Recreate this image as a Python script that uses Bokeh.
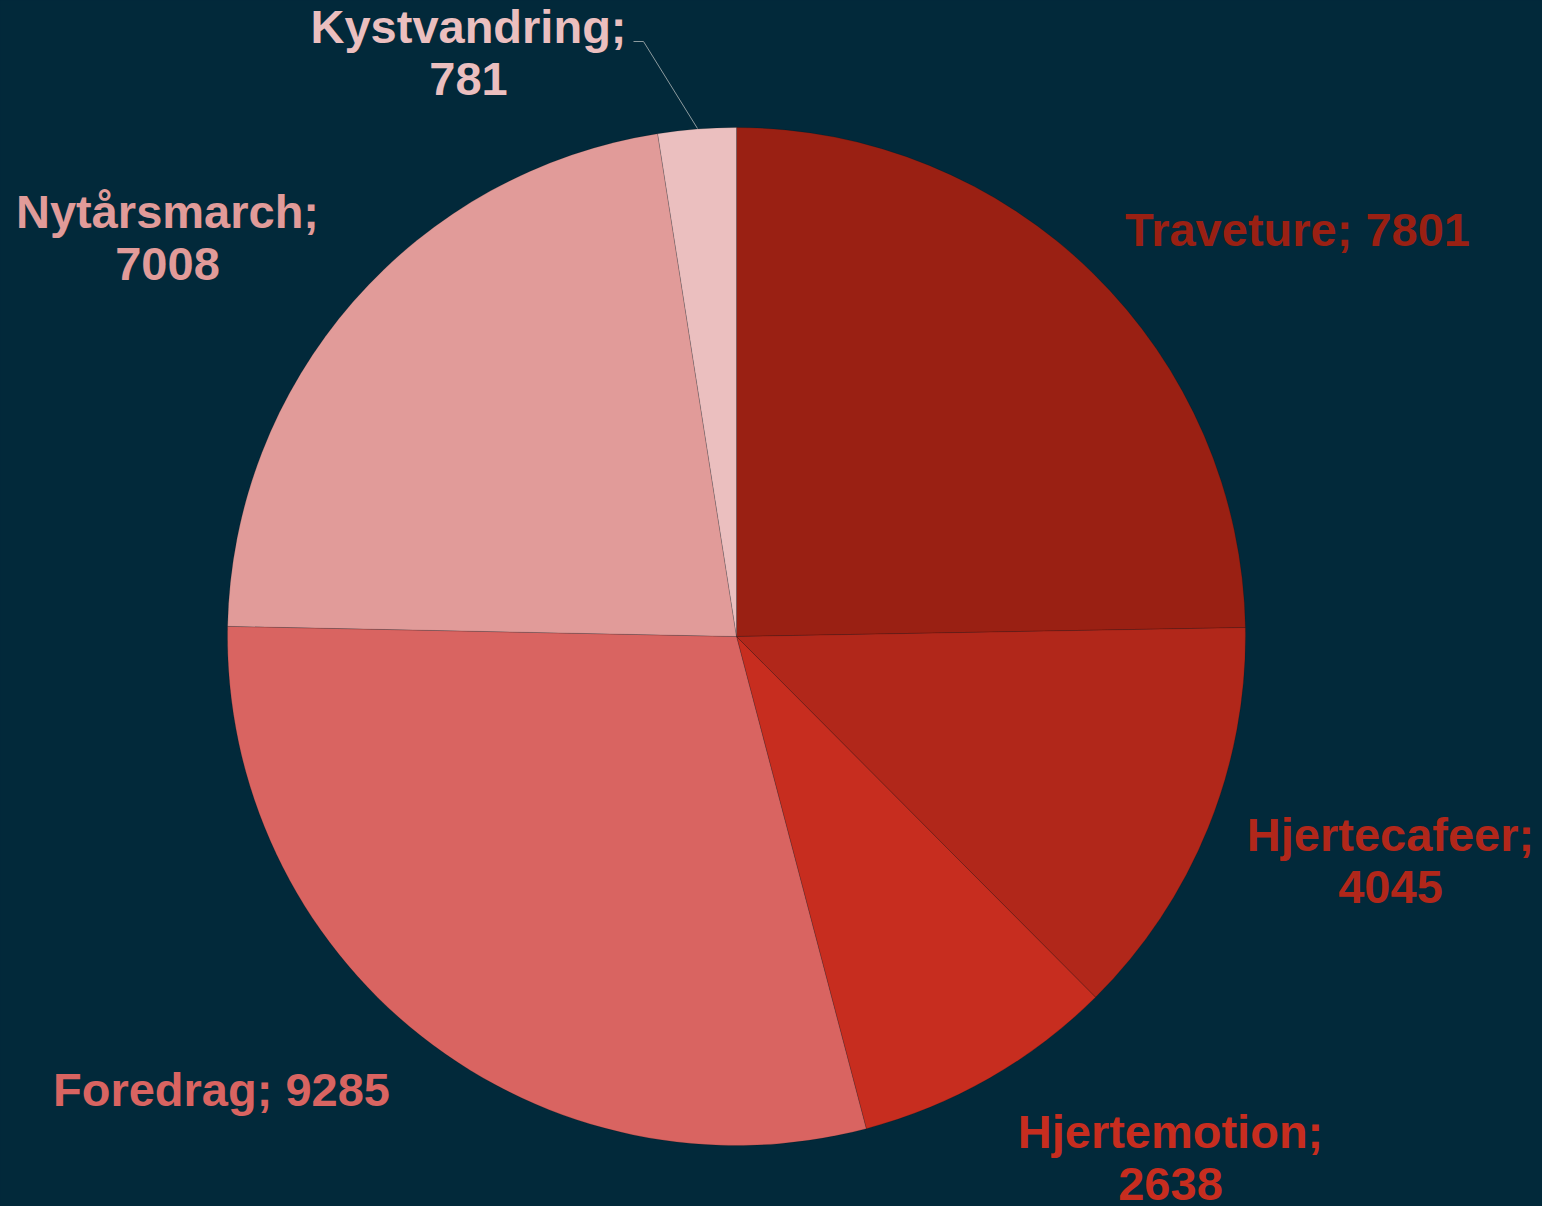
import math
from bokeh.plotting import figure
from bokeh.models import Range1d, ColumnDataSource
from bokeh.core.properties import value
from bokeh.embed import file_html
from bokeh.resources import INLINE

# ---- data ----
categories = ["Traveture", "Hjertecafeer", "Hjertemotion", "Foredrag", "Nytårsmarch", "Kystvandring"]
values = [7801, 4045, 2638, 9285, 7008, 781]
colors = ["#9A2013", "#B1271A", "#C72D1F", "#D96461", "#E19B99", "#EBBFBF"]
label_texts = ["Traveture; 7801", "Hjertecafeer;\n4045", "Hjertemotion;\n2638",
               "Foredrag; 9285", "Nytårsmarch;\n7008", "Kystvandring;\n781"]

# ---- layout (reference pixel coordinates, y measured from top) ----
W, H = 1542, 1206
BG = "#02293A"
cx, cy, R = 736, 636, 509
label_pos = [(1297, 229), (1390, 860), (1170, 1157), (221, 1089), (167, 237), (468, 52)]

total = sum(values)
starts, ends = [], []
a = math.pi / 2
for v in values:
    starts.append(a)
    a -= 2 * math.pi * v / total
    ends.append(a)

src = ColumnDataSource(dict(cat=categories, val=values, color=colors,
                            start=starts, end=ends))

p = figure(width=W, height=H, output_backend="svg", toolbar_location=None,
           x_range=Range1d(0, W), y_range=Range1d(0, H),
           min_border=0, background_fill_color=BG, border_fill_color=BG)
p.axis.visible = False
p.grid.visible = False
p.outline_line_color = None

p.wedge(x=cx, y=H - cy, radius=R, start_angle="start", end_angle="end",
        direction="clock", fill_color="color", line_color="#000000",
        line_alpha=0.15, line_width=1, source=src)

# leader line for the small slice
p.line(x=[633, 643, 697], y=[H - 41, H - 41, H - 128], line_color="#8C9A9E", line_width=1)

lsrc = ColumnDataSource(dict(x=[q[0] for q in label_pos], y=[H - q[1] for q in label_pos],
                             text=label_texts, color=colors))
p.text(x="x", y="y", text="text", text_color="color", source=lsrc,
       text_font=value("Liberation Sans"), text_font_style="bold",
       text_font_size="47px", text_align="center", text_baseline="middle",
       text_line_height=0.98)

html = file_html(p, INLINE)
html = html.replace("</head>", "<style>html,body{margin:0;padding:0;background:%s;overflow:hidden}</style></head>" % BG, 1)
open("out.html", "w").write(html)
